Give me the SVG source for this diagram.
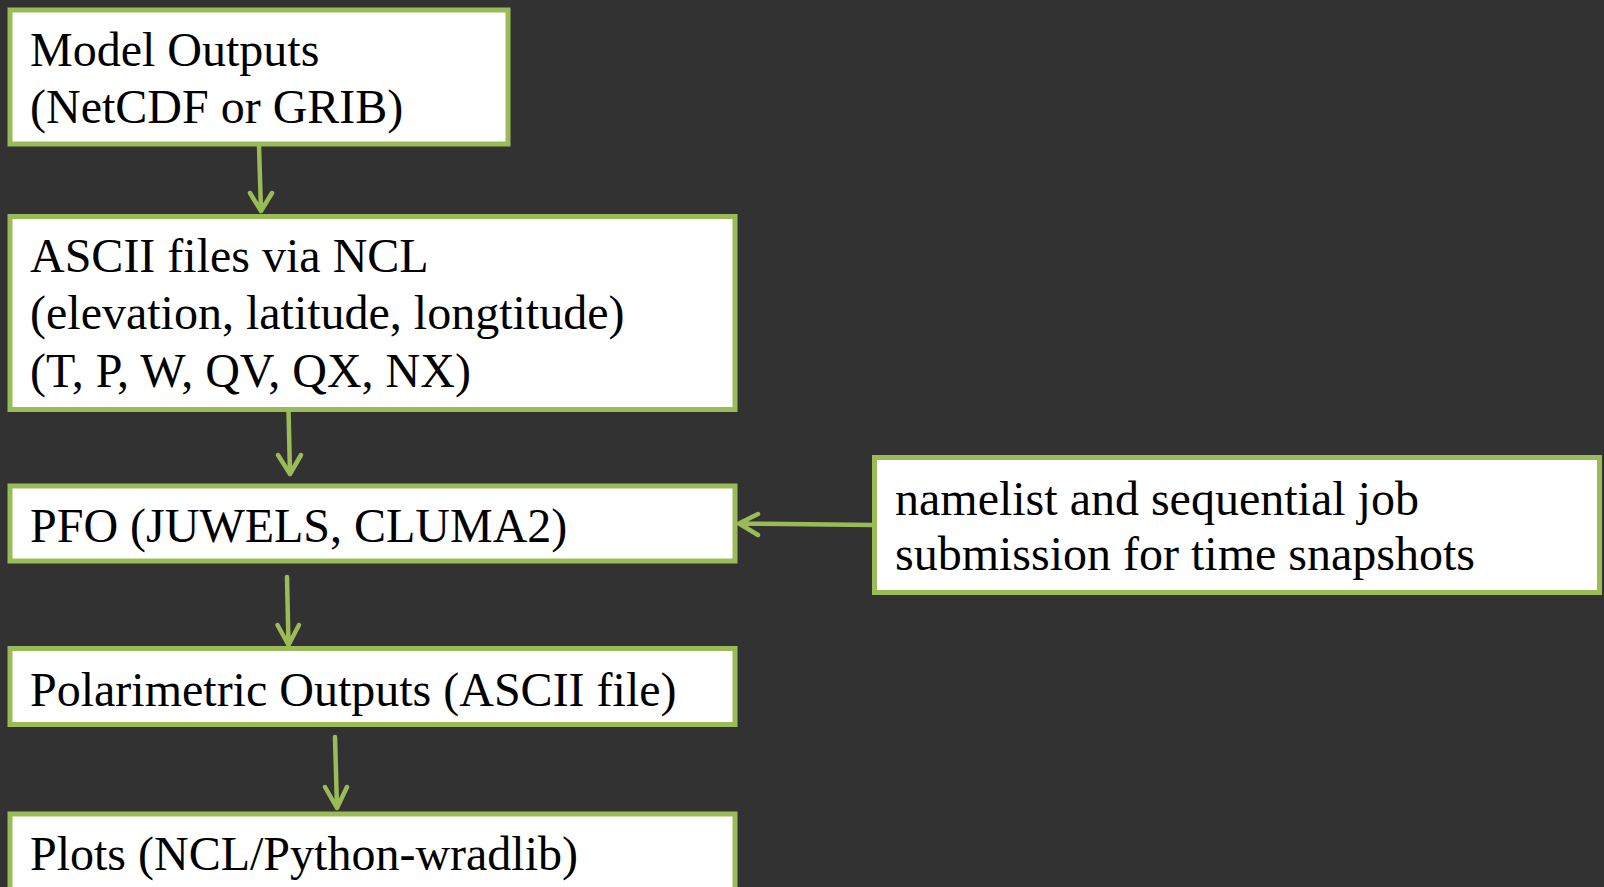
<svg xmlns="http://www.w3.org/2000/svg" width="1604" height="887" viewBox="0 0 1604 887">
<style>
.box{fill:#ffffff;stroke:#9bbb59;stroke-width:5}
.t{font-family:"Liberation Serif","Times New Roman",serif;font-size:48px;fill:#000000}
.c{fill:none;stroke:#9bbb59;stroke-width:4.5;stroke-linecap:round;stroke-linejoin:round}
</style>
<rect width="1604" height="887" fill="#323232"/>
<g id="connectors">
<path class="c" d="M259,146 L261,211 M250,193 L261,211 L272,193"/>
<path class="c" d="M288.5,409 L290,474 M278,455 L290,474 L301,455"/>
<path class="c" d="M287,577 L288.5,645 M277.5,625 L288.5,645 L299,625"/>
<path class="c" d="M335,737 L337,808 M325,787 L337,808 L347,787"/>
<path class="c" d="M873,525 L739,523.5 M758,514 L739,523.5 L758,535"/>
</g>
<g id="n1">
<rect class="box" x="10" y="10" width="498" height="134"/>
<text class="t" x="30" y="66">Model Outputs</text>
<text class="t" x="30" y="123">(NetCDF or GRIB)</text>
</g>
<g id="n2">
<rect class="box" x="10" y="216.5" width="725" height="193"/>
<text class="t" x="30" y="272">ASCII files via NCL</text>
<text class="t" x="30" y="329">(elevation, latitude, longtitude)</text>
<text class="t" x="30" y="387">(T, P, W, QV, QX, NX)</text>
</g>
<g id="n3">
<rect class="box" x="10" y="486" width="725" height="75"/>
<text class="t" x="30" y="542">PFO (JUWELS, CLUMA2)</text>
</g>
<g id="n4">
<rect class="box" x="10" y="648.5" width="725" height="76"/>
<text class="t" x="30" y="706">Polarimetric Outputs (ASCII file)</text>
</g>
<g id="n5">
<rect class="box" x="10" y="814" width="725" height="100"/>
<text class="t" x="30" y="870">Plots (NCL/Python-wradlib)</text>
</g>
<g id="n6">
<rect class="box" x="874.5" y="457.5" width="725" height="135"/>
<text class="t" x="895" y="515">namelist and sequential job</text>
<text class="t" x="895" y="570">submission for time snapshots</text>
</g>
</svg>
